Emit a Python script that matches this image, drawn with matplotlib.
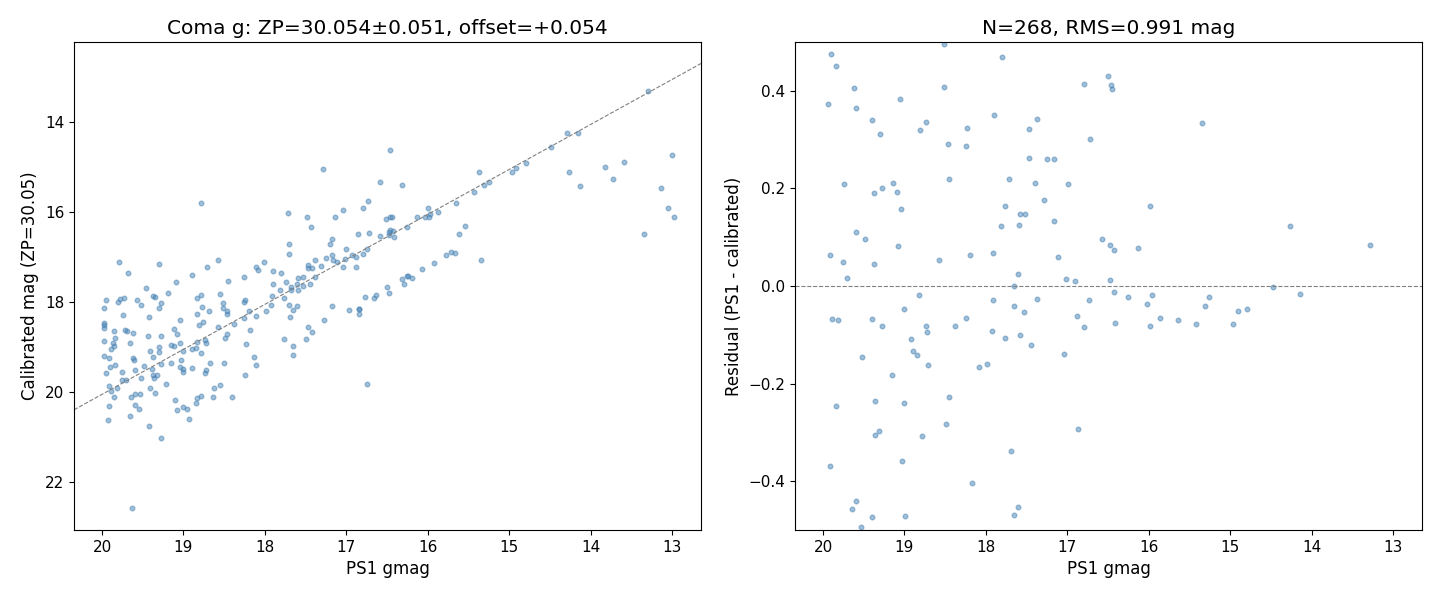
import numpy as np
import matplotlib.pyplot as plt

# left panel: PS1 gmag vs calibrated mag
ps1_g = np.array([
    19.79, 19.30, 19.68, 18.58, 18.71, 18.89, 19.09, 18.45, 18.26, 18.11, 18.08, 18.01, 17.70, 17.70,
    17.90, 17.80, 17.90, 17.74, 17.82, 17.77, 17.91, 17.93, 17.99, 17.68, 17.68, 17.59, 17.53, 17.60,
    17.59, 17.53, 17.44, 17.47, 17.42, 17.38, 17.31, 17.38, 17.47, 17.70, 17.66, 17.60, 17.69, 17.28,
    17.76, 17.66, 17.66, 17.49, 17.47, 17.42, 18.13, 18.11, 18.25, 18.23, 18.18, 18.26, 18.20, 18.11,
    18.26, 18.24, 18.375, 18.46, 18.49, 18.50, 18.55, 18.63, 18.64, 18.40, 18.52, 18.52, 18.47, 18.46,
    18.55, 18.58, 18.69, 18.77, 18.76, 18.81, 18.79, 18.83, 18.83, 18.73, 18.83, 18.90, 18.84, 18.79,
    18.72, 18.67, 18.72, 18.74, 18.79, 18.83, 18.85, 18.89, 18.93, 19.01, 18.96, 19.08, 19.10, 19.04,
    19.11, 19.08, 19.04, 19.11, 19.15, 19.01, 19.03, 19.04, 19.00, 19.01, 19.15, 19.21, 19.19, 19.27,
    19.30, 19.35, 19.38, 19.46, 19.42, 19.28, 19.30, 19.30, 19.41, 19.38, 19.39, 19.37, 19.32, 19.36,
    19.28, 19.41, 19.35, 19.42, 19.27, 19.49, 19.52, 19.43, 19.52, 19.57, 19.62, 19.66, 19.62, 19.60,
    19.72, 19.69, 19.74, 19.73, 19.78, 19.80, 19.95, 19.97, 19.97, 19.97, 19.98, 19.98, 19.85, 19.84,
    19.86, 19.89, 19.85, 19.92, 19.90, 19.84, 19.95, 19.75, 19.75, 19.70, 19.60, 19.64, 19.53, 19.60,
    19.55, 19.66, 19.91, 19.89, 19.82, 19.85, 19.92, 19.93, 19.63, 19.61, 19.97,
    17.29, 16.46, 16.59, 16.31, 17.72, 17.48, 17.43, 17.04, 17.14, 16.79, 16.73, 16.51, 16.46, 16.44,
    16.13, 16.03, 16.00, 15.98, 15.97, 15.87, 15.65, 15.43, 15.37, 15.31, 15.25, 16.26, 17.18, 17.20,
    17.17, 17.25, 17.16, 17.12, 17.00, 17.02, 17.04, 17.18, 16.93, 16.88, 16.80, 16.88, 16.86, 16.72,
    16.74, 16.59, 16.48, 16.46, 16.43, 16.42, 16.48, 16.97, 16.85, 16.84, 16.85, 16.77, 16.66, 16.63,
    16.50, 16.47, 16.75, 16.32, 16.29, 16.25, 16.24, 16.19, 16.07, 15.92, 15.77, 15.71, 15.66, 15.61,
    15.54, 15.35, 18.78,
    14.97, 14.91, 14.79, 14.49, 14.29, 14.15, 13.29, 14.26, 14.13, 13.82, 13.73, 13.59, 13.34, 13.13,
    13.05, 12.98, 13.00,
])
cal_mag = np.array([
    17.12, 17.16, 17.36, 17.07, 17.23, 17.41, 17.56, 17.54, 17.45, 17.23, 17.30, 17.12, 16.72, 16.94,
    17.32, 17.36, 17.59, 17.56, 17.74, 17.92, 17.87, 18.07, 18.21, 17.73, 17.67, 17.47, 17.44, 17.59,
    17.73, 17.64, 17.61, 17.18, 17.25, 17.07, 17.19, 17.45, 17.25, 18.07, 18.18, 18.10, 18.34, 18.40,
    18.83, 18.99, 19.19, 18.83, 18.55, 18.67, 19.23, 19.41, 19.63, 18.94, 18.63, 18.36, 18.19, 18.32,
    18.01, 17.95, 18.50, 18.72, 18.81, 19.36, 19.85, 19.92, 20.12, 20.12, 18.03, 18.14, 18.20, 18.27,
    17.83, 18.56, 18.21, 18.12, 18.45, 18.52, 17.85, 17.92, 18.27, 18.85, 18.88, 19.04, 19.03, 19.14,
    18.91, 19.36, 19.52, 19.59, 20.09, 20.14, 20.25, 19.47, 20.61, 20.34, 20.39, 20.41, 20.19, 18.41,
    18.61, 18.72, 18.92, 18.97, 18.96, 19.10, 19.30, 19.44, 19.48, 19.56, 19.36, 19.83, 17.81, 18.03,
    18.14, 17.90, 17.87, 17.70, 18.34, 18.76, 19.01, 19.12, 19.10, 19.23, 19.50, 19.62, 19.63, 19.70,
    19.39, 19.92, 20.03, 20.76, 21.03, 19.43, 19.70, 18.76, 18.07, 17.96, 18.70, 18.92, 19.25, 19.52,
    18.63, 18.65, 18.30, 17.92, 17.94, 18.00, 17.96, 18.14, 18.47, 18.59, 18.87, 19.21, 18.65, 18.81,
    18.92, 19.04, 18.99, 19.25, 19.44, 19.41, 19.59, 19.56, 19.74, 19.73, 20.05, 20.12, 20.05, 20.30,
    20.37, 20.54, 19.87, 19.99, 19.92, 20.12, 20.32, 20.63, 22.59, 19.29, 18.51,
    15.05, 14.62, 15.34, 15.41, 16.03, 16.12, 16.34, 15.96, 16.10, 15.92, 15.76, 16.15, 16.12, 16.10,
    16.12, 16.12, 15.90, 16.12, 16.05, 15.99, 15.79, 15.56, 15.10, 15.41, 15.34, 16.34, 16.61, 16.72,
    16.96, 17.03, 17.07, 17.12, 16.83, 17.05, 17.23, 18.10, 16.96, 16.99, 16.94, 17.23, 16.50, 16.47,
    16.83, 16.54, 16.45, 16.41, 16.43, 16.56, 16.52, 18.18, 18.16, 18.16, 18.27, 17.90, 17.92, 17.85,
    17.67, 17.81, 19.83, 17.50, 17.59, 17.43, 17.43, 17.47, 17.27, 17.14, 16.96, 16.90, 16.92, 16.50,
    16.32, 17.07, 15.80,
    15.11, 15.02, 14.91, 14.56, 14.24, 14.24, 13.30, 15.11, 15.42, 15.00, 15.27, 14.89, 16.49, 15.47,
    15.91, 16.11, 14.73,
])

# right panel: residuals inside the +-0.5 window
res_g = np.array([
    19.90, 19.84, 19.62, 19.94, 19.59, 19.40, 19.30, 19.06, 18.81, 18.74, 18.51, 18.51, 18.46, 18.45,
    18.25, 18.23, 17.80, 17.90, 17.47, 17.37, 17.47, 17.25, 17.16, 16.80, 16.72, 16.99, 17.40, 17.29,
    17.72, 17.77, 17.58, 17.52, 17.59, 17.81, 17.16, 17.12, 17.60, 17.66, 17.01, 16.91, 19.74, 19.37,
    19.28, 19.14, 19.09, 19.04, 19.60, 19.48, 19.08, 19.91, 19.75, 19.37, 19.70, 18.57, 18.20, 17.91,
    18.82, 19.01, 19.89, 19.82, 19.40, 19.27, 18.73, 18.72, 18.92, 18.89, 18.84, 18.71, 19.52, 19.15,
    18.375, 18.25, 17.91, 17.66, 17.37, 17.53, 17.92, 17.77, 17.58, 17.44, 18.09, 17.99, 16.88, 16.79,
    16.73, 17.04, 19.84, 19.36, 19.01, 18.45, 18.49, 19.36, 19.31, 18.79, 19.92, 19.03, 17.69, 16.87,
    18.17, 19.59, 19.64, 19.40, 18.99, 19.53, 17.60, 17.66,
    16.50, 16.46, 16.45, 15.35, 15.99, 16.58, 16.47, 16.43, 16.13, 14.27, 13.28, 16.47, 14.48, 14.14,
    16.43, 16.25, 15.96, 16.02, 15.26, 15.31, 14.79, 14.90, 16.41, 15.98, 15.86, 15.64, 15.42, 14.97,
])
resid = np.array([
    0.475, 0.451, 0.405, 0.373, 0.364, 0.340, 0.311, 0.383, 0.319, 0.336, 0.496, 0.408, 0.291, 0.219,
    0.286, 0.323, 0.469, 0.350, 0.321, 0.342, 0.262, 0.260, 0.260, 0.414, 0.301, 0.208, 0.211, 0.176,
    0.219, 0.163, 0.147, 0.147, 0.124, 0.122, 0.133, 0.059, 0.024, 0.000, 0.014, 0.010, 0.208, 0.190,
    0.200, 0.211, 0.192, 0.157, 0.110, 0.096, 0.081, 0.063, 0.049, 0.045, 0.016, 0.053, 0.063, 0.067,
    -0.019, -0.048, -0.068, -0.070, -0.068, -0.081, -0.083, -0.095, -0.109, -0.134, -0.142, -0.161, -0.146, -0.183,
    -0.083, -0.066, -0.029, -0.042, -0.027, -0.054, -0.093, -0.107, -0.101, -0.120, -0.167, -0.159, -0.062, -0.085,
    -0.029, -0.140, -0.245, -0.235, -0.239, -0.228, -0.282, -0.306, -0.298, -0.308, -0.368, -0.358, -0.339, -0.294,
    -0.403, -0.440, -0.456, -0.474, -0.472, -0.493, -0.452, -0.470,
    0.430, 0.412, 0.403, 0.334, 0.163, 0.096, 0.083, 0.073, 0.077, 0.122, 0.085, 0.012, -0.003, -0.017,
    -0.013, -0.023, -0.019, -0.036, -0.023, -0.040, -0.048, -0.052, -0.075, -0.081, -0.066, -0.070, -0.077, -0.077,
])

offset = 0.054

fig = plt.figure(figsize=(14.4, 6), dpi=100)
ax1 = fig.add_axes([0.0514, 0.1167, 0.4354, 0.8133])
ax2 = fig.add_axes([0.5521, 0.1167, 0.4354, 0.8133])

xlo, xhi = 20.344, 12.644

ax1.scatter(ps1_g, cal_mag, s=11, color='steelblue', alpha=0.5)
line = np.array([xlo, xhi])
ax1.plot(line, line + offset, '--', color='gray', lw=0.8)
ax1.set_xlim(xlo, xhi)
ax1.set_ylim(23.07, 12.22)
ax1.set_yticks([14, 16, 18, 20, 22])
ax1.set_xlabel('PS1 gmag')
ax1.set_ylabel('Calibrated mag (ZP=30.05)')
ax1.set_title('Coma g: ZP=30.054±0.051, offset=+0.054', fontsize=14.5)

ax2.scatter(res_g, resid, s=11, color='steelblue', alpha=0.5)
ax2.axhline(0, ls='--', color='gray', lw=0.8)
ax2.set_xlim(xlo, xhi)
ax2.set_ylim(-0.5, 0.5)
ax2.set_xlabel('PS1 gmag')
ax2.set_ylabel('Residual (PS1 - calibrated)')
ax2.set_title('N=268, RMS=0.991 mag', fontsize=14.5)

for ax in (ax1, ax2):
    ax.tick_params(labelsize=11)
    ax.xaxis.label.set_size(12)
    ax.yaxis.label.set_size(12)

plt.savefig('out.png')
